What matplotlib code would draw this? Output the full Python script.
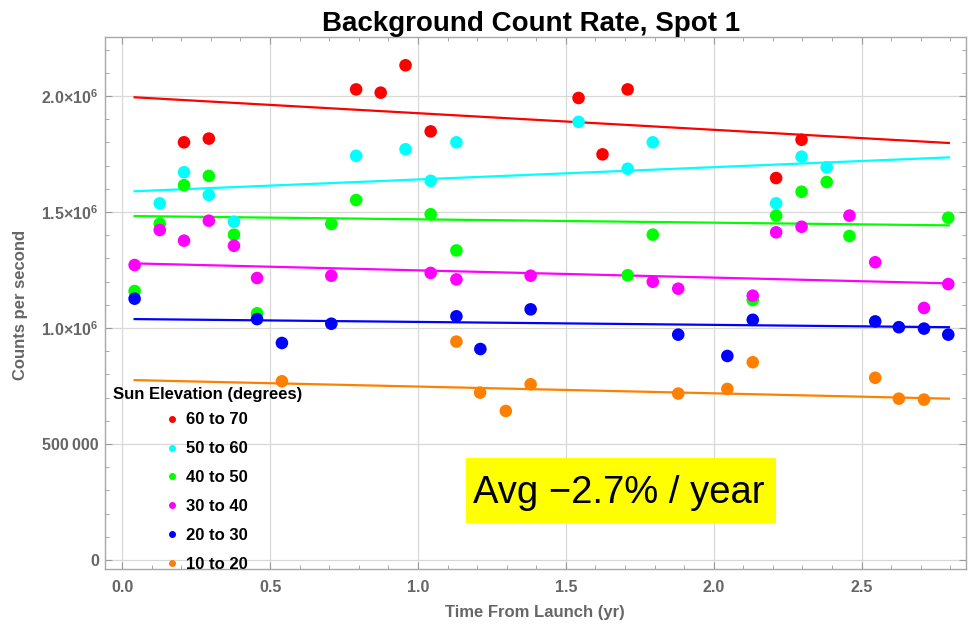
import matplotlib
matplotlib.use("Agg")
import matplotlib.pyplot as plt
from matplotlib.lines import Line2D
from matplotlib.patches import Rectangle
from matplotlib.ticker import MultipleLocator, FixedLocator, FixedFormatter

plt.rcParams['font.family'] = ['Liberation Sans', 'DejaVu Sans']
plt.rcParams['mathtext.fontset'] = 'custom'
plt.rcParams['mathtext.rm'] = 'Liberation Sans:bold'
plt.rcParams['mathtext.default'] = 'rm'

# counts are in units of 1e6 counts/s, time in years from launch
t_6070 = [0.209, 0.293, 0.791, 0.874, 0.958, 1.043, 1.543, 1.624, 1.709, 2.211, 2.297]
c_6070 = [1.800, 1.816, 2.028, 2.014, 2.132, 1.847, 1.991, 1.748, 2.028, 1.646, 1.811]

t_5060 = [0.127, 0.209, 0.293, 0.378, 0.791, 0.958, 1.043, 1.130, 1.543, 1.709, 1.794,
          2.211, 2.297, 2.382]
c_5060 = [1.537, 1.671, 1.573, 1.458, 1.742, 1.770, 1.634, 1.800, 1.888, 1.686, 1.800,
          1.537, 1.738, 1.692]

t_4050 = [0.042, 0.127, 0.209, 0.293, 0.378, 0.456, 0.707, 0.791, 1.043, 1.130, 1.709,
          1.794, 2.132, 2.211, 2.297, 2.382, 2.459, 2.793]
c_4050 = [1.159, 1.449, 1.615, 1.655, 1.402, 1.063, 1.448, 1.551, 1.490, 1.334, 1.227,
          1.402, 1.120, 1.484, 1.587, 1.629, 1.396, 1.475]

t_3040 = [0.042, 0.127, 0.209, 0.293, 0.378, 0.456, 0.707, 1.043, 1.130, 1.381, 1.794,
          1.880, 2.132, 2.211, 2.297, 2.459, 2.546, 2.711, 2.793]
c_3040 = [1.271, 1.422, 1.376, 1.462, 1.354, 1.215, 1.225, 1.237, 1.209, 1.225, 1.199,
          1.169, 1.139, 1.412, 1.436, 1.484, 1.283, 1.086, 1.189]

t_2030 = [0.042, 0.456, 0.540, 0.707, 1.130, 1.211, 1.381, 1.880, 2.046, 2.132, 2.546,
          2.626, 2.711, 2.793]
c_2030 = [1.126, 1.038, 0.935, 1.018, 1.050, 0.909, 1.080, 0.971, 0.879, 1.035, 1.028,
          1.003, 0.997, 0.971]

t_1020 = [0.540, 1.130, 1.210, 1.297, 1.381, 1.880, 2.046, 2.132, 2.546, 2.626, 2.711]
c_1020 = [0.770, 0.941, 0.721, 0.642, 0.757, 0.717, 0.737, 0.852, 0.785, 0.695, 0.691]

labels = ["60 to 70", "50 to 60", "40 to 50", "30 to 40", "20 to 30", "10 to 20"]
colors = ["#ff0000", "#00ffff", "#00ff00", "#ff00ff", "#0000ff", "#ff8000"]

# linear trend per band: value at first and last month
fit_t = [0.042, 2.795]
fit_6070 = [1.994, 1.797]
fit_5060 = [1.589, 1.735]
fit_4050 = [1.482, 1.442]
fit_3040 = [1.278, 1.192]
fit_2030 = [1.038, 1.003]
fit_1020 = [0.775, 0.695]

times = [t_6070, t_5060, t_4050, t_3040, t_2030, t_1020]
counts = [c_6070, c_5060, c_4050, c_3040, c_2030, c_1020]
fits = [fit_6070, fit_5060, fit_4050, fit_3040, fit_2030, fit_1020]

fig = plt.figure(figsize=(9.69, 6.29), dpi=100)
ax = fig.add_axes([0.1084, 0.0949, 0.8882, 0.8458])

for f, col in zip(fits, colors):
    ax.plot(fit_t, [v * 1e6 for v in f], color=col, lw=1.6, zorder=2)
for t, c, col in zip(times, counts, colors):
    ax.scatter(t, [v * 1e6 for v in c], s=82, color=col, edgecolors='none', zorder=3)

ax.set_xlim(-0.058, 2.852)
ax.set_ylim(-40500, 2252600)

gray = "#666666"
ax.xaxis.set_major_locator(MultipleLocator(0.5))
ax.xaxis.set_minor_locator(MultipleLocator(0.1))
yt = [0, 500000, 1000000, 1500000, 2000000]
ax.yaxis.set_major_locator(FixedLocator(yt))
ax.yaxis.set_major_formatter(FixedFormatter(["0", "500\u2009000", "1.0×10$^{6}$",
                                             "1.5×10$^{6}$", "2.0×10$^{6}$"]))
ax.yaxis.set_minor_locator(MultipleLocator(100000))
ax.tick_params(which='both', direction='in', top=True, right=True, color="#999999")
ax.tick_params(which='major', length=5, width=0.8)
ax.tick_params(which='minor', length=3, width=0.6)
ax.tick_params(axis='x', pad=8)
ax.tick_params(axis='y', pad=4.5)
for lab in ax.get_xticklabels() + ax.get_yticklabels():
    lab.set_fontsize(11.5)
    lab.set_fontweight('bold')
    lab.set_color(gray)
for sp in ax.spines.values():
    sp.set_color("#a8a8a8")
    sp.set_linewidth(1.0)
ax.grid(True, which='major', color="#d8d8d8", lw=0.9)
ax.set_axisbelow(True)

ax.set_title("Background Count Rate, Spot 1", fontsize=20, fontweight='bold', pad=2, x=0.495)
ax.set_xlabel("Time From Launch (yr)", fontsize=12, fontweight='bold', color=gray)
ax.set_ylabel("Counts per second", fontsize=12, fontweight='bold', color=gray)
ax.xaxis.set_label_coords(0.5, -0.067)
ax.yaxis.set_label_coords(-0.0895, 0.497)

handles = [Line2D([], [], marker='o', ls='none', ms=4, color=col) for col in colors]
fig.text(112.7 / 969, 1 - 395 / 629, "Sun Elevation (degrees)", fontsize=12,
         fontweight='bold', ha='left', va='center')
fig.legend(handles, labels, loc='upper left', bbox_to_anchor=(165.3 / 969, 1 - 412.5 / 629),
           frameon=False, borderpad=0, borderaxespad=0, handlelength=0.8,
           handletextpad=0.44, labelspacing=0.83, prop={'weight': 'bold', 'size': 12})

ax.add_patch(Rectangle((0.4190, 0.0876), 0.3602, 0.1211, transform=ax.transAxes,
                       facecolor='#ffff00', edgecolor='none', zorder=5))
ax.text(0.5973, 0.1241, "Avg \u22122.7% / year", transform=ax.transAxes, fontsize=27.5,
        ha='center', va='baseline', zorder=6)

fig.savefig("out.png", dpi=100)
